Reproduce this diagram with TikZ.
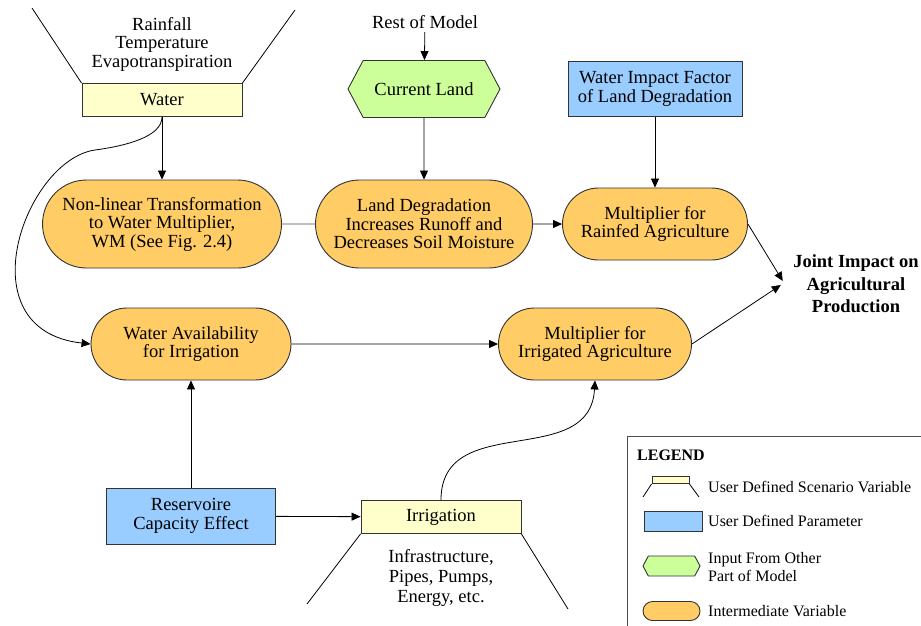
\documentclass[tikz,border=0pt]{standalone}
\usepackage{fontspec}
\setmainfont{Liberation Serif}
\usetikzlibrary{shapes, shapes.misc, shapes.symbols, arrows.meta}

\definecolor{scenyellow}{HTML}{FFFFCC}
\definecolor{parblue}{HTML}{99CCFF}
\definecolor{ingreen}{HTML}{CCFF99}
\definecolor{midorange}{HTML}{FFCC66}

\begin{document}
\begin{tikzpicture}[x=1pt, y=-1pt, font=\fontsize{18.5}{18.5}\selectfont]
      \tikzstyle{scenario} = [
        rectangle,
        draw=black!80,
        line width=0.9pt,
        fill=scenyellow,
        minimum width=160pt,
        minimum height=33pt,
        inner sep=0pt
      ]

      \tikzstyle{param} = [
        rectangle,
        draw=black!80,
        line width=0.9pt,
        fill=parblue,
        align=center,
        inner sep=0pt
      ]

      \tikzstyle{input} = [
        signal,
        signal to=east and west,
        signal pointer angle=124,
        draw=black!80,
        line width=0.9pt,
        fill=ingreen,
        inner sep=0pt
      ]

      \tikzstyle{interm} = [
        rounded rectangle,
        draw=black!80,
        line width=0.9pt,
        fill=midorange,
        align=center,
        inner sep=0pt
      ]

      \tikzstyle{legtext} = [
        anchor=west,
        align=left,
        inner sep=0pt,
        font=\fontsize{16}{18}\selectfont
      ]

      \tikzstyle{arr} = [
        line width=0.8pt,
        -{Triangle[length=9pt, width=8pt]}
      ]

      \useasboundingbox (0,0) rectangle (921,625);

      \node[scenario] (water) at (162,100) {Water};
      \node[align=center] (weather) at (162,44) {Rainfall\\Temperature\\Evapotranspiration};
      \node (rest) at (425,22) {Rest of Model};
      \node[input, minimum width=152pt, minimum height=57pt] (land) at (424,89) {Current Land};
      \node[param, minimum width=174pt, minimum height=55pt] (factor) at (655,89) {Water Impact Factor\\of Land Degradation};

      \node[interm, minimum width=239pt, minimum height=88pt] (nonlin) at (162,224) {Non-linear Transformation\\to Water Multiplier,\\WM (See Fig. 2.4)};
      \node[interm, minimum width=217pt, minimum height=88pt] (degrad) at (424,224) {Land Degradation\\Increases Runoff and\\Decreases Soil Moisture};
      \node[interm, minimum width=185pt, minimum height=72pt] (rainfed) at (655,224) {Multiplier for\\Rainfed Agriculture};
      \node[interm, minimum width=200pt, minimum height=72pt] (avail) at (191,344) {Water Availability\\for Irrigation};
      \node[interm, minimum width=193pt, minimum height=72pt] (irrmult) at (595,344) {Multiplier for\\Irrigated Agriculture};
      \node[align=center, font=\bfseries\fontsize{18.5}{22.5}\selectfont] (joint) at (856,284) {Joint Impact on\\Agricultural\\Production};

      \node[param, minimum width=169pt, minimum height=56pt] (reservoir) at (191,516) {Reservoire\\Capacity Effect};
      \node[scenario] (irrigation) at (441,517) {Irrigation};
      \node[align=center, font=\fontsize{18.5}{20}\selectfont] (infra) at (441,578) {Infrastructure,\\Pipes, Pumps,\\Energy, etc.};

      \coordinate (waterleft) at (32,8);
      \coordinate (waterright) at (295,10);
      \coordinate (irrleft) at (307,604);
      \coordinate (irrright) at (568,609);
      \coordinate (waterbend) at (95,150);
      \draw[line width=0.8pt] (water.north west) -- (waterleft);
      \draw[line width=0.8pt] (water.north east) -- (waterright);
      \draw[line width=0.8pt] (irrigation.south west) -- (irrleft);
      \draw[line width=0.8pt] (irrigation.south east) -- (irrright);

      \draw[arr] (rest) -- (land);
      \draw[arr] (water) -- (nonlin);
      \draw[arr] (water.south) .. controls +(0,20) and +(30,-4) .. (waterbend)
        .. controls +(-70,10) and +(-127,-14) .. (avail.west);
      \draw[line width=0.8pt, black!70] (nonlin) -- (degrad);
      \draw[arr] (land) -- (degrad);
      \draw[arr] (degrad) -- (rainfed);
      \draw[arr] (factor) -- (rainfed);
      \draw[arr] (avail) -- (irrmult);
      \draw[arr] (reservoir) -- (avail);
      \draw[arr] (reservoir) -- (irrigation);
      \draw[arr] (irrigation.north) .. controls +(0,-90) and +(-5,90) .. (irrmult.south);
      \draw[arr] (rainfed.east) -- ([xshift=-7pt, yshift=3pt]joint.west);
      \draw[arr] (irrmult.east) -- ([xshift=-9pt, yshift=-1pt]joint.west);

      \draw[line width=0.9pt, black!70] (627,436) rectangle (940,640);
      \node[legtext, font=\bfseries\fontsize{16}{18}\selectfont] (legtitle) at (637,455) {LEGEND};
      \node[scenario, minimum width=37pt, minimum height=7pt] (legscen) at (670.5,480) {};
      \coordinate (legleft) at (643,497);
      \coordinate (legright) at (699,497);
      \draw[line width=0.8pt] (legscen.south west) -- (legleft);
      \draw[line width=0.8pt] (legscen.south east) -- (legright);
      \node[legtext] (legscentext) at (708,487) {User Defined Scenario Variable};
      \node[param, minimum width=58pt, minimum height=20pt] (legparam) at (673,521) {};
      \node[legtext] (legparamtext) at (708,521) {User Defined Parameter};
      \node[input, minimum width=57pt, minimum height=20pt] (leginput) at (671.5,566) {};
      \node[legtext] (leginputtext) at (708,567) {Input From Other\\Part of Model};
      \node[interm, minimum width=57pt, minimum height=19pt] (leginterm) at (671.5,611) {};
      \node[legtext] (legintermtext) at (708,611) {Intermediate Variable};
    \end{tikzpicture}
\end{document}
